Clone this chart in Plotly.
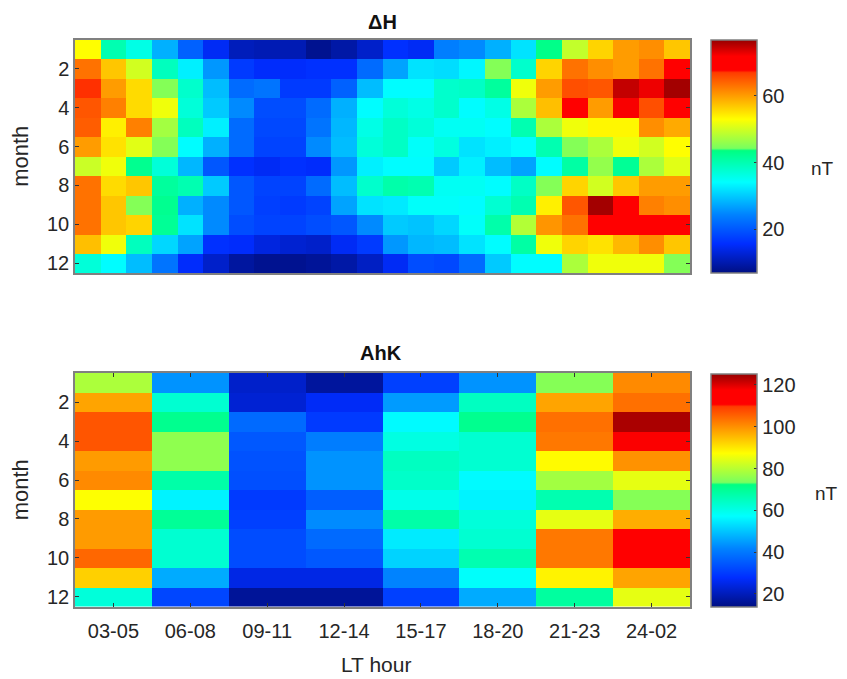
import plotly.graph_objects as go

# Top panel: delta H, one row per month, 24 local time columns
months = list(range(1, 13))
hours = list(range(1, 25))
delta_h = [
    [53, 40, 36, 28, 21, 15, 11, 10.5, 10.5, 8, 9.5, 12, 16, 15, 24, 25, 28, 32, 43, 49, 56, 60, 61, 57],
    [63, 57, 50, 39, 33, 26, 17, 15.5, 15.5, 16, 16, 22, 27, 32, 31.5, 33.5, 45, 38, 56, 63, 61, 60, 63, 69],
    [67, 60, 55.5, 45, 38, 29, 22, 23, 17, 17, 21, 29, 34, 34, 38, 38.5, 41.5, 52, 60, 65.5, 65, 74.5, 72.5, 76],
    [65, 62, 55.5, 52, 37, 30, 25, 19, 19, 22, 28, 34, 37, 36, 38, 34, 36, 47.5, 57.5, 69, 60, 72, 65.5, 70],
    [64.5, 54, 62, 47, 39, 33, 22, 18.5, 18.5, 23, 28.5, 36, 38.5, 37, 35, 35, 34, 40, 47.5, 52, 53.5, 53.5, 61, 59],
    [60, 55, 51, 45, 34, 28, 22, 18, 18, 25, 29, 37, 38.5, 34.5, 36.5, 32, 33, 34, 40, 45, 47.5, 52, 50, 53],
    [49.5, 52, 42.5, 37, 28.5, 20, 16, 15, 16, 15.5, 26, 33, 34, 34, 30, 33, 29, 27, 34, 41, 46, 42, 47.5, 51],
    [63, 55.5, 57, 41.5, 40, 30, 20, 18, 18, 22, 29, 38, 40.5, 40, 35, 35, 34, 38.5, 45, 56, 50, 57, 60, 60],
    [63, 57, 45, 42.5, 28, 25, 20, 17.5, 17, 18, 27, 32, 32.5, 34.5, 34.5, 34, 37.5, 40, 54, 65, 76, 69, 62, 61],
    [63, 57, 56, 42, 32, 25, 19, 18, 18, 19, 20, 25, 30, 29.5, 31, 34.5, 40.5, 48, 60.5, 63, 69, 69, 69, 69],
    [57.5, 52, 39, 31, 27, 16, 15.5, 13.5, 12.5, 12, 15, 17, 26, 28.5, 29, 32, 34, 41, 52, 56, 55, 58, 61, 57],
    [37, 34, 29, 23, 15.5, 12, 9, 8, 8, 8.5, 9.5, 11.5, 15, 19, 18.5, 22, 30, 34, 34, 47.5, 52, 52, 52, 45],
]

# Bottom panel: AhK in three hour bins
lt_bins = ["03-05", "06-08", "09-11", "12-14", "15-17", "18-20", "21-23", "24-02"]
ahk = [
    [79, 44, 22, 17, 31, 44, 75, 101],
    [98, 63, 23, 27, 45, 65, 98, 104],
    [107, 71, 38, 30, 57, 71, 104, 124],
    [107, 76, 35, 41, 61, 63, 103, 118],
    [99, 76, 34, 44, 65, 63, 88, 100],
    [101, 68, 33.5, 44, 64, 57, 78, 85],
    [87.5, 56, 30, 36, 60, 56, 67, 75],
    [99, 70, 31, 43, 68, 62, 85, 97],
    [99, 63, 33, 38, 55, 63, 103, 113],
    [105, 63, 33, 35, 52, 67, 103, 113],
    [93, 47, 25, 25, 42, 58, 89, 98],
    [62, 32, 16.5, 16.5, 31, 47, 69, 85],
]

# jet, but with the jump across green that the picture has
jet = [
    [0.0, "rgb(0,15,130)"],
    [0.125, "rgb(0,45,255)"],
    [0.25, "rgb(0,130,255)"],
    [0.39, "rgb(0,255,255)"],
    [0.525, "rgb(0,255,130)"],
    [0.535, "rgb(120,255,95)"],
    [0.66, "rgb(255,255,0)"],
    [0.86, "rgb(255,60,0)"],
    [0.87, "rgb(255,0,0)"],
    [0.93, "rgb(255,0,0)"],
    [1.0, "rgb(150,0,0)"],
]

# the page puts the figure 8px in from the corner, so pixel positions below are
# reference pixels minus that offset
OFF = 8
W, H = 847 - 2 * OFF, 679 - OFF
FONT = "Liberation Sans"
TEXT = "#262626"
EDGE = "#808080"
TICK_SIZE = 20
TITLE_SIZE = 22


def px(p):
    return (p - OFF) / W


def py(p):
    return 1 - (p - OFF) / H


def colorbar(top, bottom, tickvals):
    return dict(
        x=px(711), xanchor="left", xref="paper", xpad=0,
        y=py(bottom), yanchor="bottom", yref="paper", ypad=0,
        len=(bottom - top) / H, lenmode="fraction",
        thickness=46, thicknessmode="pixels",
        outlinecolor=EDGE, outlinewidth=1.5,
        tickvals=tickvals, ticks="inside", ticklen=3, tickcolor="#333333",
        tickfont=dict(family=FONT, size=TICK_SIZE, color=TEXT),
    )


fig = go.Figure()
fig.add_trace(go.Heatmap(
    x=hours, y=months, z=delta_h, zmin=7, zmax=76.6, colorscale=jet,
    colorbar=colorbar(39.5, 273, [20, 40, 60]), xaxis="x", yaxis="y",
))
fig.add_trace(go.Heatmap(
    x=lt_bins, y=months, z=ahk, zmin=14, zmax=125.5, colorscale=jet,
    colorbar=colorbar(373, 606.5, [20, 40, 60, 80, 100, 120]), xaxis="x2", yaxis="y2",
))

yax = dict(
    autorange="reversed", tickvals=[2, 4, 6, 8, 10, 12], ticks="inside", ticklen=4,
    tickcolor="#333333", mirror="ticks", showline=True, linecolor=EDGE, linewidth=1.5,
    tickfont=dict(family=FONT, size=TICK_SIZE, color=TEXT), showgrid=False, zeroline=False,
    title=dict(text="month", font=dict(family=FONT, size=TITLE_SIZE, color=TEXT), standoff=12),
)

fig.update_layout(
    width=W, height=H,
    margin=dict(l=0, r=0, t=0, b=0),
    paper_bgcolor="white", plot_bgcolor="white",
    showlegend=False,
    xaxis=dict(domain=[px(75), px(690)], anchor="y", showticklabels=False, ticks="",
               showline=True, mirror=True, linecolor=EDGE, linewidth=1.5,
               showgrid=False, zeroline=False),
    yaxis=dict(domain=[py(273), py(39.5)], anchor="x", **yax),
    xaxis2=dict(domain=[px(75), px(690)], anchor="y2", type="category", ticks="inside",
                ticklen=4, tickcolor="#333333", mirror="ticks", showline=True,
                linecolor=EDGE, linewidth=1.5, showgrid=False, zeroline=False,
                tickfont=dict(family=FONT, size=TICK_SIZE, color=TEXT), ticklabelstandoff=6),
    yaxis2=dict(domain=[py(606.5), py(373)], anchor="x2", **yax),
    annotations=[
        dict(text="<b>ΔH</b>", x=382, y=22, showarrow=False, font=dict(family=FONT, size=20, color="#111111")),
        dict(text="<b>AhK</b>", x=381, y=353, showarrow=False, font=dict(family=FONT, size=20, color="#111111")),
        dict(text="nT", x=822, y=169, showarrow=False, font=dict(family=FONT, size=19, color=TEXT)),
        dict(text="nT", x=826, y=493, showarrow=False, font=dict(family=FONT, size=19, color=TEXT)),
        dict(text="LT hour", x=376, y=664, showarrow=False, font=dict(family=FONT, size=21, color=TEXT)),
    ],
)

# annotation positions above are pixels, turn them into paper fractions
for a in fig.layout.annotations:
    a.update(x=px(a.x), y=py(a.y), xref="paper", yref="paper", xanchor="center", yanchor="middle")

fig.write_html("out.html")
